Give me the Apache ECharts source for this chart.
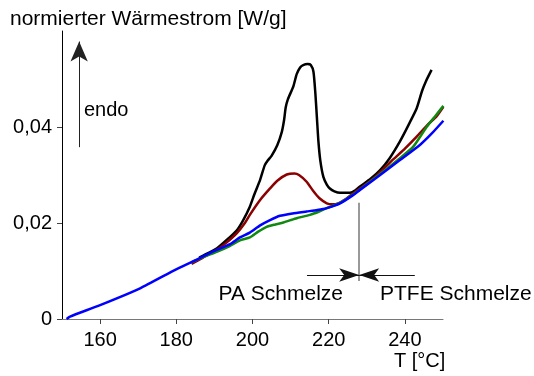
<!DOCTYPE html>
<html>
<head>
<meta charset="utf-8">
<script src="https://cdn.jsdelivr.net/npm/echarts@6/dist/echarts.min.js"></script>
<style>
  html, body { margin: 0; padding: 0; background: #fff; }
  #chart { width: 534px; height: 376px; }
</style>
</head>
<body>
<div id="chart"></div>
<script>
// DSC curves: [T in °C, normalized heat flow in W/g]
const blackCurve = [
  [186, 0.0128], [188, 0.0136], [190.6, 0.0147], [193, 0.0163], [195.9, 0.0185],
  [197.5, 0.0205], [199.3, 0.0234], [200.5, 0.0260], [202, 0.0290], [203.2, 0.0320],
  [204, 0.0330], [205, 0.0340], [206.5, 0.0362], [207.7, 0.0390], [208.3, 0.0415],
  [208.7, 0.0440], [209.3, 0.0458], [210.7, 0.0484], [211.6, 0.0510], [212.5, 0.0524],
  [213.3, 0.0529], [214.5, 0.0531], [215.3, 0.0529], [216, 0.0515], [216.5, 0.0470],
  [216.9, 0.0420], [217.3, 0.0370], [217.8, 0.0330], [218.6, 0.0296], [219.5, 0.0280],
  [220.3, 0.0272], [221.5, 0.0266], [223, 0.0263], [225.6, 0.0263], [227, 0.0268],
  [228.2, 0.0276], [231, 0.0292], [233.5, 0.0310], [236, 0.0335], [238.7, 0.0370],
  [241, 0.0405], [243.1, 0.0439], [244.5, 0.0475], [245.5, 0.0495], [247, 0.0519]
];
const redCurve = [
  [184, 0.0115], [187, 0.0128], [190.6, 0.0144], [193, 0.0158], [195.9, 0.0179],
  [198, 0.0200], [199.3, 0.0217], [202, 0.0248], [204.6, 0.0272], [206.5, 0.0288],
  [209, 0.0301], [211, 0.0303], [212.2, 0.0300], [214.2, 0.0286], [216, 0.0266],
  [217.5, 0.0252], [219.5, 0.0241], [221, 0.0239], [222.5, 0.0241], [224.5, 0.0250],
  [226.5, 0.0262], [231.7, 0.0293], [237, 0.0333], [240, 0.0355], [243.1, 0.0380],
  [246, 0.0405], [248.3, 0.0422], [250.1, 0.0442]
];
const greenCurve = [
  [184, 0.0118], [187, 0.0129], [190.6, 0.0140], [194, 0.0152], [196.7, 0.0164],
  [199.3, 0.0170], [201.5, 0.0182], [203.7, 0.0192], [206, 0.0197], [208.1, 0.0201],
  [210, 0.0206], [211.6, 0.0210], [215.1, 0.0217], [217.5, 0.0224], [219.5, 0.0231],
  [223, 0.0242], [226, 0.0257], [228.2, 0.0270], [233.5, 0.0302], [238.7, 0.0335],
  [242.2, 0.0359], [245.7, 0.0400], [248, 0.0423], [250.1, 0.0444]
];
const blueCurve = [
  [151.2, 0], [152.1, 0.0005], [160, 0.0029], [170.5, 0.0064], [180.1, 0.0104],
  [186.2, 0.0127], [190, 0.0142], [194.1, 0.0156], [196.7, 0.0170], [199.3, 0.0180],
  [202, 0.0195], [204.6, 0.0206], [207.2, 0.0215], [210.5, 0.0220], [214.2, 0.0224],
  [217, 0.0227], [219.5, 0.0231], [223, 0.0241], [226, 0.0256], [228.2, 0.0269],
  [233.5, 0.0300], [238.7, 0.0331], [244, 0.0363], [247, 0.0386], [250.1, 0.0413]
];

const xTicks = [160, 180, 200, 220, 240];
const yTicks = [0, 0.02, 0.04];

const FONT = '"Liberation Sans", Arial, sans-serif';
const chart = echarts.init(document.getElementById('chart'));

const curve = (data, color) => ({
  type: 'line',
  data: data,
  showSymbol: false,
  smooth: 0.2,
  lineStyle: { color: color, width: 2.5 },
  itemStyle: { color: color },
  silent: true
});

const option = {
  animation: false,
  grid: { left: 62, right: 91, top: 31, bottom: 57, containLabel: false, outerBoundsMode: 'none' },
  xAxis: {
    type: 'value',
    min: 150,
    max: 250,
    splitLine: { show: false },
    axisLine: { lineStyle: { color: '#777', width: 1 } },
    axisTick: { customValues: xTicks, length: 5, lineStyle: { color: '#444' } },
    axisLabel: {
      customValues: xTicks, margin: 11,
      color: '#000', fontSize: 20, fontFamily: FONT
    }
  },
  yAxis: {
    type: 'value',
    min: 0,
    max: 0.06,
    splitLine: { show: false },
    axisLine: { show: true, lineStyle: { color: '#000', width: 1 } },
    axisTick: { show: true, customValues: yTicks, length: 5, lineStyle: { color: '#444' } },
    axisLabel: {
      customValues: yTicks, margin: 10,
      color: '#000', fontSize: 20, fontFamily: FONT,
      formatter: v => (v === 0 ? '0' : v.toFixed(2).replace('.', ','))
    }
  },
  series: [
    curve(blackCurve, '#000000'),
    curve(redCurve, '#8b0000'),
    curve(greenCurve, '#118811'),
    curve(blueCurve, '#0000ff'),
    {
      // annotation arrows
      type: 'line',
      data: [],
      silent: true,
      markLine: {
        silent: true,
        animation: false,
        label: { show: false },
        emphasis: { disabled: true },
        data: [
          [
            { coord: [154.5, 0.0358], symbol: 'none', lineStyle: { color: '#222', width: 1, type: 'solid' } },
            { coord: [154.5, 0.0578], symbol: 'arrow', symbolSize: [13, 20] }
          ],
          [
            { coord: [228, 0.0242], symbol: 'none', lineStyle: { color: '#777', width: 1.5, type: 'solid' } },
            { coord: [228, 0.0079], symbol: 'none' }
          ],
          [
            { coord: [214.3, 0.00917], symbol: 'none', lineStyle: { color: '#111', width: 1, type: 'solid' } },
            { coord: [228, 0.00917], symbol: 'arrow', symbolSize: [10, 20] }
          ],
          [
            { coord: [242.6, 0.00917], symbol: 'none', lineStyle: { color: '#111', width: 1, type: 'solid' } },
            { coord: [228, 0.00917], symbol: 'arrow', symbolSize: [10, 20] }
          ]
        ]
      }
    }
  ],
  graphic: [
    { type: 'text', x: 10, y: 19, style: { text: 'normierter Wärmestrom [W/g]', font: '21px ' + FONT, fill: '#000', verticalAlign: 'middle' } },
    { type: 'text', x: 84, y: 110, style: { text: 'endo', font: '20px ' + FONT, fill: '#000', verticalAlign: 'middle' } },
    { type: 'text', x: 343, y: 294, style: { text: 'PA Schmelze', font: '21px ' + FONT, fill: '#000', align: 'right', verticalAlign: 'middle' } },
    { type: 'text', x: 380, y: 294, style: { text: 'PTFE Schmelze', font: '21px ' + FONT, fill: '#000', verticalAlign: 'middle' } },
    { type: 'text', x: 394, y: 361, style: { text: 'T [°C]', font: '20px ' + FONT, fill: '#000', verticalAlign: 'middle' } }
  ]
};

chart.setOption(option);
</script>
</body>
</html>
